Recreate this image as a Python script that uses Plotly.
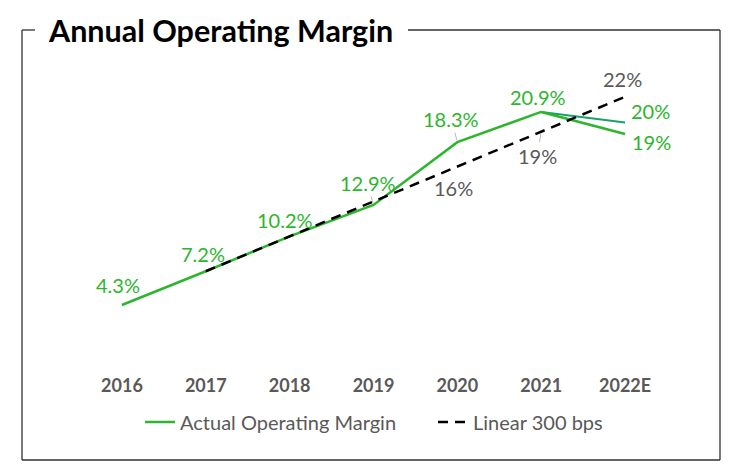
import plotly.graph_objects as go

years = ["2016", "2017", "2018", "2019", "2020", "2021", "2022E"]
actual = [4.3, 7.2, 10.2, 12.9, 18.3, 20.9]
actual_years = years[:6]
branch_years = ["2021", "2022E"]
branch_high = [20.9, 20]
branch_low = [20.9, 19]
linear_years = years[1:]
linear = [7.2, 10.2, 13.2, 16.2, 19.2, 22.2]

actual_labels = ["4.3%", "7.2%", "10.2%", "12.9%", "18.3%", "20.9%"]
branch_high_label = "20%"
branch_low_label = "19%"
linear_labels = {"2020": "16%", "2021": "19%", "2022E": "22%"}

OFF = 8  # page body margin
W, H = 740 - 2 * OFF, 476 - 2 * OFF
ML, MT = 80 - OFF, 60 - OFF
PW, PH = 587, 295
MR, MB = W - ML - PW, H - MT - PH

def px(x):
    return (x - OFF - ML) / PW

def py(y):
    return (MT + PH - (y - OFF)) / PH

GREEN = "#2db52d"
TEAL = "#1aa06a"
GRAY = "#595959"
FONT = "Lato"
LBL = 20

fig = go.Figure()
fig.add_trace(go.Scatter(x=actual_years, y=actual, mode="lines", name="Actual Operating Margin",
                         line=dict(color=GREEN, width=2.5), legend="legend"))
fig.add_trace(go.Scatter(x=branch_years, y=branch_high, mode="lines", showlegend=False,
                         line=dict(color=TEAL, width=2)))
fig.add_trace(go.Scatter(x=branch_years, y=branch_low, mode="lines", showlegend=False,
                         line=dict(color=GREEN, width=2.5)))
fig.add_trace(go.Scatter(x=linear_years, y=linear, mode="lines", name="Linear 300 bps",
                         line=dict(color="black", width=2.5, dash="10px,7px"), legend="legend2"))

def idx(y):
    return years.index(y)

ann = []
shifts = [(-4, 20), (-3, 17), (-5, 16), (-6, 22), (-6, 23), (-3, 15)]
leader = {"2019", "2020"}
for xv, yv, t, (dx, dy) in zip(actual_years, actual, actual_labels, shifts):
    if xv in leader:
        ann.append(dict(x=idx(xv), y=yv, text=t, showarrow=True, ax=dx, ay=-dy,
                        arrowhead=0, arrowwidth=0.8, arrowcolor="#a6a6a6", standoff=2,
                        font=dict(color=GREEN, size=LBL, family=FONT)))
    else:
        ann.append(dict(x=idx(xv), y=yv, text=t, showarrow=False, xshift=dx, yshift=dy,
                        font=dict(color=GREEN, size=LBL, family=FONT)))
ann.append(dict(x=idx("2022E"), y=branch_high[1], text=branch_high_label, showarrow=False,
                xshift=25, yshift=11, font=dict(color=GREEN, size=LBL, family=FONT)))
ann.append(dict(x=idx("2022E"), y=branch_low[1], text=branch_low_label, showarrow=False,
                xshift=26, yshift=-8, font=dict(color=GREEN, size=LBL, family=FONT)))
lin_shift = {"2020": (-4, -21), "2021": (-4, -24), "2022E": (-3, 18)}
for xv, yv in zip(linear_years, linear):
    if xv in linear_labels:
        dx, dy = lin_shift[xv]
        if xv == "2021":
            ann.append(dict(x=idx(xv), y=yv, text=linear_labels[xv], showarrow=True, ax=dx, ay=-dy,
                            arrowhead=0, arrowwidth=0.8, arrowcolor="#a6a6a6", standoff=2,
                            font=dict(color=GRAY, size=LBL, family=FONT)))
        else:
            ann.append(dict(x=idx(xv), y=yv, text=linear_labels[xv], showarrow=False,
                            xshift=dx, yshift=dy, font=dict(color=GRAY, size=LBL, family=FONT)))

# title
ann.append(dict(xref="paper", yref="paper", x=px(46), y=py(30), xanchor="left", yanchor="middle",
                text="<b>Annual Operating Margin</b>", showarrow=False,
                font=dict(color="black", size=30.5, family=FONT)))

shapes = []
bc = "#303030"
for (x0, y0, x1, y1) in [(22, 30, 22, 460), (22, 460, 720, 460), (720, 460, 720, 30),
                         (22, 30, 35, 30), (408, 30, 720, 30)]:
    shapes.append(dict(type="line", xref="paper", yref="paper", x0=px(x0), y0=py(y0),
                       x1=px(x1), y1=py(y1), line=dict(color=bc, width=1.3)))

leg_common = dict(orientation="h", yanchor="middle", y=py(422), xanchor="left",
                  font=dict(size=20, color=GRAY, family=FONT), bgcolor="rgba(0,0,0,0)")

fig.update_layout(
    width=W, height=H,
    margin=dict(l=ML, r=MR, t=MT, b=MB),
    paper_bgcolor="white", plot_bgcolor="white",
    font=dict(family=FONT, color=GRAY),
    xaxis=dict(type="category", categoryorder="array", categoryarray=years, range=[-0.5, 6.5],
               showgrid=False, zeroline=False, showline=False, ticks="",
               tickfont=dict(size=18, color=GRAY, family=FONT, weight="bold"),
               ticklabelstandoff=18),
    yaxis=dict(range=[0, PH / 11.63], visible=False),
    showlegend=True,
    legend=dict(x=px(140), **leg_common),
    legend2=dict(x=px(433), **leg_common),
    annotations=ann, shapes=shapes,
)
fig.write_html("out.html")
